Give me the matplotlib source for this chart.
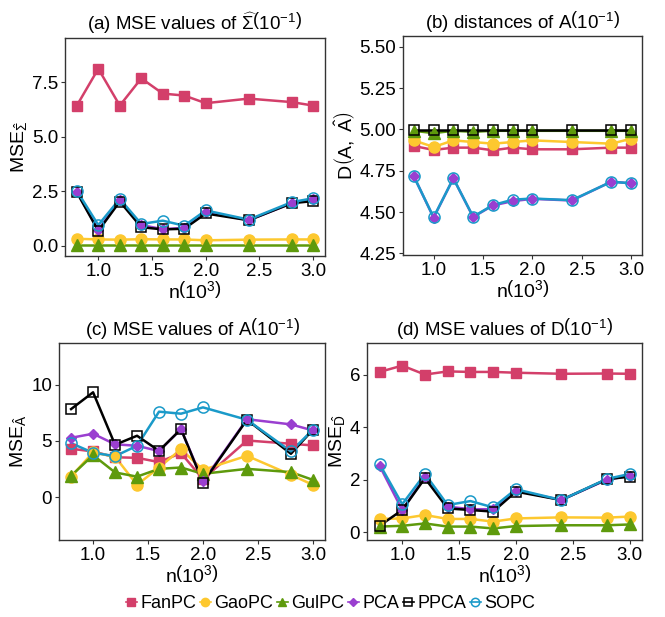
import matplotlib
matplotlib.use("Agg")
import matplotlib.pyplot as plt
from matplotlib.lines import Line2D

plt.rcParams['font.family'] = ['Liberation Sans', 'DejaVu Sans']
plt.rcParams['mathtext.fontset'] = 'custom'
plt.rcParams['mathtext.rm'] = 'Liberation Sans'
plt.rcParams['mathtext.it'] = 'Liberation Sans'
plt.rcParams['mathtext.bf'] = 'Liberation Sans:bold'

n = [0.8, 1.0, 1.2, 1.4, 1.6, 1.8, 2.0, 2.4, 2.8, 3.0]
methods = ["FanPC", "GaoPC", "GulPC", "PCA", "PPCA", "SOPC"]

# (a) MSE of Sigma
a_fan  = [6.43, 8.12, 6.43, 7.68, 6.98, 6.89, 6.54, 6.75, 6.59, 6.43]
a_gao  = [0.32, 0.29, 0.28, 0.30, 0.29, 0.29, 0.25, 0.28, 0.29, 0.29]
a_gul  = [0.02, 0.02, 0.02, 0.02, 0.02, 0.02, 0.02, 0.02, 0.02, 0.02]
a_pca  = [2.48, 0.73, 2.09, 0.95, 0.76, 0.82, 1.55, 1.17, 1.95, 2.13]
a_ppca = [2.45, 0.68, 2.03, 0.85, 0.75, 0.78, 1.48, 1.17, 1.95, 2.05]
a_sopc = [2.52, 0.95, 2.15, 1.00, 1.15, 0.92, 1.62, 1.20, 2.00, 2.18]

# (b) distances of A
b_fan  = [4.900, 4.876, 4.890, 4.890, 4.874, 4.890, 4.880, 4.880, 4.890, 4.890]
b_gao  = [4.934, 4.894, 4.934, 4.924, 4.914, 4.924, 4.934, 4.924, 4.914, 4.944]
b_gul  = [4.992, 4.978, 4.992, 4.986, 4.992, 4.992, 4.992, 4.992, 4.992, 4.992]
b_pca  = [4.716, 4.466, 4.704, 4.470, 4.540, 4.566, 4.580, 4.570, 4.684, 4.674]
b_ppca = [4.995, 4.995, 4.995, 4.995, 4.995, 4.995, 4.995, 4.995, 4.995, 4.995]
b_sopc = [4.716, 4.468, 4.704, 4.472, 4.542, 4.575, 4.582, 4.572, 4.684, 4.674]

# (c) MSE of A
c_fan  = [4.30, 4.07, 3.55, 3.50, 3.12, 3.92, 1.60, 5.04, 4.75, 4.60]
c_gao  = [1.84, 3.98, 3.60, 1.10, 2.64, 4.27, 2.43, 3.68, 1.99, 1.10]
c_gul  = [1.90, 3.74, 2.20, 1.83, 2.52, 2.64, 2.08, 2.52, 2.23, 1.54]
c_pca  = [5.28, 5.64, 4.70, 4.57, 4.10, 6.05, 1.40, 6.93, 6.47, 5.93]
c_ppca = [7.83, 9.32, 4.66, 5.46, 4.12, 6.05, 1.30, 6.88, 3.86, 6.00]
c_sopc = [4.80, 3.95, 3.65, 4.57, 7.60, 7.42, 7.98, 6.88, 4.07, 6.00]

# (d) MSE of D
d_fan  = [6.10, 6.34, 6.00, 6.12, 6.10, 6.10, 6.07, 6.03, 6.04, 6.03]
d_gao  = [0.51, 0.53, 0.66, 0.51, 0.51, 0.41, 0.53, 0.57, 0.56, 0.60]
d_gul  = [0.22, 0.25, 0.34, 0.22, 0.22, 0.15, 0.24, 0.27, 0.27, 0.30]
d_pca  = [2.54, 0.85, 2.12, 0.98, 0.88, 0.88, 1.59, 1.23, 2.00, 2.15]
d_ppca = [0.25, 0.85, 2.06, 0.91, 0.85, 0.79, 1.55, 1.23, 2.02, 2.12]
d_sopc = [2.60, 1.07, 2.22, 1.04, 1.19, 0.95, 1.64, 1.23, 2.03, 2.22]

colors = {"FanPC": "#D33F6A", "GaoPC": "#FDC82F", "GulPC": "#5E9A0C",
          "PCA": "#9A3FD0", "PPCA": "#000000", "SOPC": "#1A9AC9"}
styles = {
    "FanPC": dict(marker='s', ms=7, mfc=colors["FanPC"], mec=colors["FanPC"]),
    "GaoPC": dict(marker='o', ms=8, mfc=colors["GaoPC"], mec=colors["GaoPC"]),
    "GulPC": dict(marker='^', ms=8, mfc=colors["GulPC"], mec=colors["GulPC"]),
    "PCA":   dict(marker='D', ms=5, mfc=colors["PCA"], mec=colors["PCA"]),
    "PPCA":  dict(marker='s', ms=7.5, mfc='none', mec='#000000', mew=1.1),
    "SOPC":  dict(marker='o', ms=8, mfc='none', mec=colors["SOPC"], mew=1.1),
}

panels = [
    dict(data=[a_fan, a_gao, a_gul, a_pca, a_ppca, a_sopc],
         rect=(65, 38, 325, 256), ylim=(-0.47, 9.53), yticks=[0.0, 2.5, 5.0, 7.5],
         yfmt="{:.1f}",
         title=r"(a) MSE values of $\widehat{\Sigma}\left(10^{-1}\right)$",
         ylabel=r"$\mathrm{MSE}_{\hat{\Sigma}}$"),
    dict(data=[b_fan, b_gao, b_gul, b_pca, b_ppca, b_sopc],
         rect=(403, 36, 642, 255), ylim=(4.24, 5.566), yticks=[4.25, 4.50, 4.75, 5.00, 5.25, 5.50],
         yfmt="{:.2f}",
         title=r"(b) distances of A$\left(10^{-1}\right)$",
         ylabel=r"$\mathrm{D}\left(\mathrm{A},\ \hat{\mathrm{A}}\right)$"),
    dict(data=[c_fan, c_gao, c_gul, c_pca, c_ppca, c_sopc],
         rect=(59, 343, 325, 540), ylim=(-3.8, 13.7), yticks=[0, 5, 10],
         yfmt="{:d}",
         title=r"(c) MSE values of A$\left(10^{-1}\right)$",
         ylabel=r"$\mathrm{MSE}_{\hat{\mathrm{A}}}$"),
    dict(data=[d_fan, d_gao, d_gul, d_pca, d_ppca, d_sopc],
         rect=(367, 343, 642, 540), ylim=(-0.29, 7.2), yticks=[0, 2, 4, 6],
         yfmt="{:d}",
         title=r"(d) MSE values of D$\left(10^{-1}\right)$",
         ylabel=r"$\mathrm{MSE}_{\hat{\mathrm{D}}}$"),
]

W, H = 665, 617
fig = plt.figure(figsize=(W / 100, H / 100), dpi=100)

for p in panels:
    l, t, r, b = p["rect"]
    ax = fig.add_axes([l / W, 1 - b / H, (r - l) / W, (b - t) / H])
    for m, y in zip(methods, p["data"]):
        ax.plot(n, y, color=colors[m], lw=1.8, zorder=2)
    for m, y in zip(methods, p["data"]):
        ax.plot(n, y, ls='none', zorder=3, **styles[m])
    ax.set_xlim(0.69, 3.11)
    ax.set_ylim(*p["ylim"])
    ax.set_xticks([1.0, 1.5, 2.0, 2.5, 3.0])
    ax.set_xticklabels(["1.0", "1.5", "2.0", "2.5", "3.0"])
    ax.set_yticks(p["yticks"])
    ax.set_yticklabels([p["yfmt"].format(v) for v in p["yticks"]])
    ax.tick_params(labelsize=13.5, length=3, width=0.8, color='#333333',
                   labelcolor='black', pad=2)
    for s in ax.spines.values():
        s.set_color('#333333')
        s.set_linewidth(1.0)
    ax.set_title(p["title"], fontsize=13.5, pad=6)
    ax.set_xlabel(r"$\mathrm{n}\left(10^{3}\right)$", fontsize=14, labelpad=1)
    ax.set_ylabel(p["ylabel"], fontsize=14, labelpad=2)

handles = [Line2D([0], [0], color=colors[m], lw=1.2, **{**styles[m], "ms": styles[m]["ms"] * 0.75})
           for m in methods]
fig.legend(handles, methods, loc='center', bbox_to_anchor=(0.497, 1 - 604 / H), ncol=6,
           frameon=False, fontsize=13, handlelength=0.6, handletextpad=0.2,
           columnspacing=0.2, borderaxespad=0)

fig.savefig("out.png", dpi=100)
